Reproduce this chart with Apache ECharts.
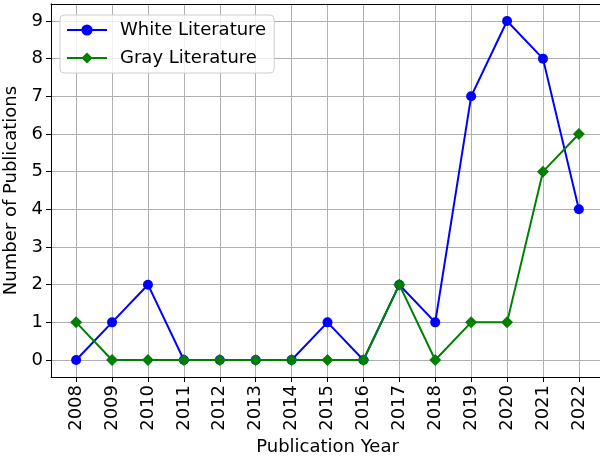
<!DOCTYPE html>
<html>
<head>
<meta charset="utf-8">
<script src="https://cdn.jsdelivr.net/npm/echarts@6/dist/echarts.min.js"></script>
<style>
  html, body { margin: 0; padding: 0; background: #fff; }
  #chart { width: 600px; height: 457px; }
</style>
</head>
<body>
<div id="chart"></div>
<script>
// 数据
const years = [2008, 2009, 2010, 2011, 2012, 2013, 2014, 2015, 2016, 2017, 2018, 2019, 2020, 2021, 2022];
const whiteLit = [0, 1, 2, 0, 0, 0, 0, 1, 0, 2, 1, 7, 9, 8, 4];
const grayLit = [1, 0, 0, 0, 0, 0, 0, 0, 0, 2, 0, 1, 1, 5, 6];
const yTicks = [0, 1, 2, 3, 4, 5, 6, 7, 8, 9];

const font = 'DejaVu Sans';
const fs = 18;
const chart = echarts.init(document.getElementById('chart'));

function pairs(values) {
    return years.map((y, i) => [y, values[i]]);
}

chart.setOption({
    animation: false,
    textStyle: { fontFamily: font },
    // 右边框在画面外（原图被裁切）
    grid: {
        left: 51, width: 553, top: 4, bottom: 80,
        outerBoundsMode: 'none',
        containLabel: false
    },
    legend: {
        orient: 'vertical',
        left: 60,
        top: 15,
        padding: [6, 8, 6, 6],
        itemGap: 10,
        itemWidth: 40,
        itemHeight: 14,
        borderColor: '#cccccc',
        borderWidth: 1,
        borderRadius: 4,
        backgroundColor: 'rgba(255,255,255,0.8)',
        textStyle: { fontSize: fs, color: '#000', fontFamily: font, padding: [0, 0, 0, 8] },
        data: ['White Literature', 'Gray Literature']
    },
    xAxis: [
        {
            type: 'value',
            min: 2007.3,
            max: 2022.7,
            name: 'Publication Year',
            nameLocation: 'middle',
            nameGap: 56,
            nameTextStyle: { fontSize: fs, color: '#000', fontFamily: font },
            axisLine: { onZero: false, lineStyle: { color: '#000', width: 1 } },
            axisTick: { show: true, length: 5, customValues: years, lineStyle: { color: '#000' } },
            axisLabel: {
                customValues: years,
                formatter: v => String(v),
                rotate: 90,
                fontSize: fs,
                color: '#000',
                margin: 8,
                fontFamily: font
            },
            splitLine: { show: true, customValues: years, lineStyle: { color: '#b0b0b0', width: 1 } }
        },
        {
            // 顶部边框
            type: 'value',
            position: 'top',
            min: 2007.3,
            max: 2022.7,
            axisLine: { show: true, onZero: false, lineStyle: { color: '#000', width: 1 } },
            axisTick: { show: false },
            axisLabel: { show: false },
            splitLine: { show: false }
        }
    ],
    yAxis: {
        type: 'value',
        min: -0.45,
        max: 9.45,
        name: 'Number of Publications',
        nameLocation: 'middle',
        nameGap: 28,
        nameTextStyle: { fontSize: fs, color: '#000', fontFamily: font },
        axisLine: { show: true, onZero: false, lineStyle: { color: '#000', width: 1 } },
        axisTick: { show: true, length: 5, customValues: yTicks, lineStyle: { color: '#000' } },
        axisLabel: { customValues: yTicks, fontSize: fs, color: '#000', margin: 8, fontFamily: font },
        splitLine: { show: true, customValues: yTicks, lineStyle: { color: '#b0b0b0', width: 1 } }
    },
    series: [
        {
            name: 'White Literature',
            type: 'line',
            data: pairs(whiteLit),
            symbol: 'circle',
            symbolSize: 10,
            color: '#0000ff',
            lineStyle: { width: 2 },
            z: 3
        },
        {
            name: 'Gray Literature',
            type: 'line',
            data: pairs(grayLit),
            symbol: 'diamond',
            symbolSize: 12,
            color: '#008000',
            lineStyle: { width: 2 },
            z: 4
        }
    ]
});
</script>
</body>
</html>
